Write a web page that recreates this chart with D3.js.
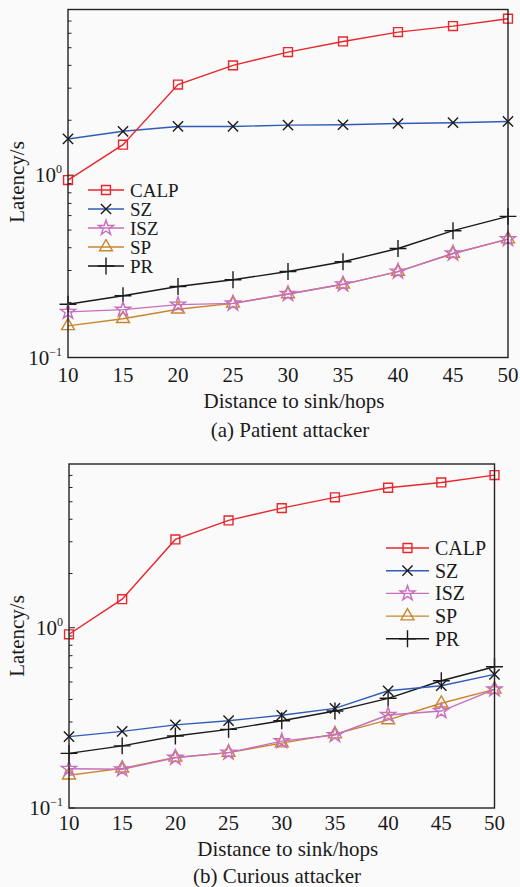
<!DOCTYPE html>
<html>
<head>
<meta charset="utf-8">
<script src="https://cdn.jsdelivr.net/npm/d3@7"></script>
<style>
  body { margin: 0; background: #fafafa; }
  text { font-family: "Liberation Serif", "DejaVu Serif", serif; fill: #1a1a1a; }
</style>
</head>
<body>
<script>
// x values (hops) shared by both panels
var hops = [10, 15, 20, 25, 30, 35, 40, 45, 50];
var xTicks = [10, 15, 20, 25, 30, 35, 40, 45, 50];
// minor / major ticks on the log axis
var yMinor = [0.2, 0.3, 0.4, 0.5, 0.6, 0.7, 0.8, 0.9, 2, 3, 4, 5, 6, 7];
var yMajor = [0.1, 1];
var yMajorExp = ["\u22121", "0"];

var seriesNames = ["CALP", "SZ", "ISZ", "SP", "PR"];

// (a) patient attacker
var calpA = [0.94, 1.47, 3.14, 4.0, 4.73, 5.41, 6.09, 6.57, 7.21];
var szA   = [1.58, 1.74, 1.85, 1.85, 1.88, 1.89, 1.92, 1.94, 1.97];
var iszA  = [0.178, 0.183, 0.195, 0.198, 0.223, 0.252, 0.296, 0.372, 0.446];
var spA   = [0.149, 0.163, 0.184, 0.198, 0.223, 0.252, 0.296, 0.372, 0.446];
var prA   = [0.196, 0.218, 0.245, 0.267, 0.296, 0.335, 0.396, 0.496, 0.594];

// (b) curious attacker
var calpB = [0.92, 1.44, 3.09, 3.94, 4.61, 5.29, 5.98, 6.40, 7.03];
var szB   = [0.249, 0.266, 0.289, 0.305, 0.327, 0.357, 0.447, 0.477, 0.551];
var iszB  = [0.165, 0.164, 0.190, 0.203, 0.235, 0.254, 0.328, 0.345, 0.455];
var spB   = [0.152, 0.166, 0.191, 0.203, 0.229, 0.257, 0.308, 0.381, 0.455];
var prB   = [0.201, 0.221, 0.251, 0.273, 0.305, 0.345, 0.406, 0.508, 0.608];

// look of each series
var styles = {
  CALP: {line: "#e8262b", mark: "#e8262b", sym: d3.symbolSquare2, size: 100},
  SZ:   {line: "#2f5cb8", mark: "#1a1a1a", sym: d3.symbolTimes, size: 70},
  ISZ:  {line: "#c86dbf", mark: "#c86dbf", sym: d3.symbolStar, size: 70},
  SP:   {line: "#c8862c", mark: "#c8862c", sym: d3.symbolTriangle2, size: 120},
  PR:   {line: "#1a1a1a", mark: "#1a1a1a", sym: d3.symbolPlus, size: 95}
};

var svg = d3.select("body").append("svg")
  .attr("width", 520)
  .attr("height", 887);

function drawPanel(p) {
  var x = d3.scaleLinear().domain([10, 50]).range([p.left, p.right]);
  var y = d3.scaleLog().domain([0.1, 8.1]).range([p.bottom, p.top]);
  var g = svg.append("g");

  // minor ticks (inward)
  g.selectAll(".minor").data(yMinor).enter().append("line")
    .attr("x1", p.left).attr("x2", p.left + 3.5)
    .attr("y1", d => y(d)).attr("y2", d => y(d))
    .attr("stroke", "#222").attr("stroke-width", 1);
  g.selectAll(".major").data(yMajor).enter().append("line")
    .attr("x1", p.left).attr("x2", p.left + 6)
    .attr("y1", d => y(d)).attr("y2", d => y(d))
    .attr("stroke", "#222").attr("stroke-width", 1);

  // y labels 10^n
  yMajor.forEach(function(v, i) {
    var t = g.append("text")
      .attr("x", p.left - 6).attr("y", y(v) + 7)
      .attr("text-anchor", "end")
      .style("font-size", "21px");
    t.append("tspan").text("10");
    t.append("tspan").attr("dy", -9).style("font-size", "12px").text(yMajorExp[i]);
  });

  // x tick labels
  g.selectAll(".xl").data(xTicks).enter().append("text")
    .attr("x", d => x(d)).attr("y", p.tickY)
    .attr("text-anchor", "middle")
    .style("font-size", "21px")
    .text(d => d);

  g.append("text")
    .attr("x", (p.left + p.right) / 2 + 6).attr("y", p.xlabY)
    .attr("text-anchor", "middle").style("font-size", "21px")
    .text("Distance to sink/hops");
  g.append("text")
    .attr("x", p.capX).attr("y", p.capY)
    .attr("text-anchor", "middle").style("font-size", "21px")
    .text(p.caption);
  g.append("text")
    .attr("transform", "translate(24," + p.ylabelY + ") rotate(-90)")
    .attr("text-anchor", "middle").style("font-size", "21px")
    .text("Latency/s");

  var line = d3.line().x((d, i) => x(hops[i])).y(d => y(d));

  // draw back to front so CALP sits on top
  p.series.slice().reverse().forEach(function(s) {
    var st = styles[s.name];
    g.append("path").attr("d", line(s.values))
      .attr("fill", "none").attr("stroke", st.line).attr("stroke-width", 1.4);
    g.selectAll(null).data(s.values).enter().append("path")
      .attr("transform", (d, i) => "translate(" + x(hops[i]) + "," + y(d) + ")")
      .attr("d", d3.symbol().type(st.sym).size(st.size))
      .attr("fill", "none").attr("stroke", st.mark).attr("stroke-width", 1.4);
  });

  // box
  g.append("rect")
    .attr("x", p.left).attr("y", p.top)
    .attr("width", p.right - p.left).attr("height", p.bottom - p.top)
    .attr("fill", "none").attr("stroke", "#222").attr("stroke-width", 1.4);

  // legend
  seriesNames.forEach(function(name, i) {
    var st = styles[name];
    var ly = p.legY + i * p.legGap;
    g.append("line")
      .attr("x1", p.legX).attr("x2", p.legX + p.legLen)
      .attr("y1", ly).attr("y2", ly)
      .attr("stroke", st.line).attr("stroke-width", 1.4);
    g.append("path")
      .attr("transform", "translate(" + (p.legX + p.legLen / 2) + "," + ly + ")")
      .attr("d", d3.symbol().type(st.sym).size(st.size))
      .attr("fill", "none").attr("stroke", st.mark).attr("stroke-width", 1.4);
    g.append("text")
      .attr("x", p.legX + p.legLen + 6).attr("y", ly + 7)
      .style("font-size", p.legFont)
      .text(name);
  });
}

drawPanel({
  left: 68, right: 508, top: 9.5, bottom: 357.5,
  tickY: 382, xlabY: 408, capY: 437, capX: 290,
  caption: "(a) Patient attacker", ylabelY: 182,
  legX: 88, legY: 190, legGap: 19, legLen: 36, legFont: "19px",
  series: [
    {name: "CALP", values: calpA}, {name: "SZ", values: szA},
    {name: "ISZ", values: iszA}, {name: "SP", values: spA},
    {name: "PR", values: prA}
  ]
});

drawPanel({
  left: 69, right: 494.5, top: 464, bottom: 808,
  tickY: 830, xlabY: 856, capY: 883, capX: 277,
  caption: "(b) Curious attacker", ylabelY: 636,
  legX: 386, legY: 548, legGap: 22.7, legLen: 43, legFont: "20px",
  series: [
    {name: "CALP", values: calpB}, {name: "SZ", values: szB},
    {name: "ISZ", values: iszB}, {name: "SP", values: spB},
    {name: "PR", values: prB}
  ]
});
</script>
</body>
</html>
